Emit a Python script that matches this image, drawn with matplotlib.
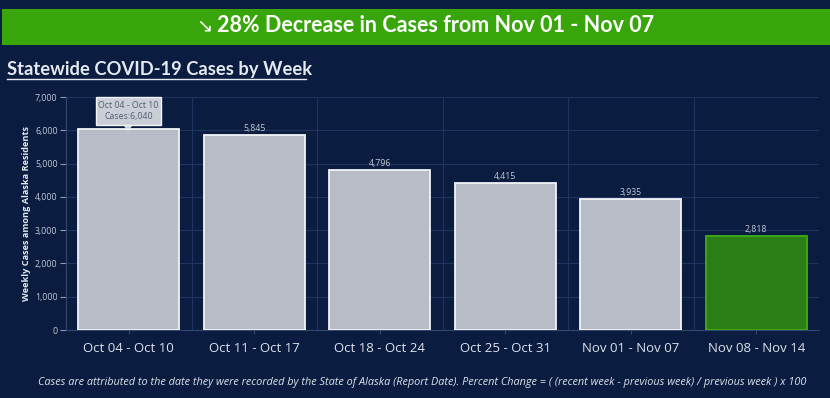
import matplotlib
matplotlib.use("Agg")
import matplotlib.pyplot as plt
from matplotlib.patches import Rectangle, Polygon
from matplotlib.ticker import FuncFormatter, MultipleLocator

weeks = ["Oct 04 - Oct 10", "Oct 11 - Oct 17", "Oct 18 - Oct 24",
         "Oct 25 - Oct 31", "Nov 01 - Nov 07", "Nov 08 - Nov 14"]
cases = [6040, 5845, 4796, 4415, 3935, 2818]
banner_text = "28% Decrease in Cases from Nov 01 - Nov 07"
title_text = "Statewide COVID-19 Cases by Week"
ylabel_text = "Weekly Cases among Alaska Residents"
footer_text = ("Cases are attributed to the date they were recorded by the State of Alaska (Report Date). "
               "Percent Change = ( (recent week - previous week) / previous week ) x 100")

BG = "#0a1c40"
W, H = 830, 398
fig = plt.figure(figsize=(W / 100, H / 100), dpi=100, facecolor=BG)

# banner
fig.patches.append(Rectangle((2 / W, 1 - 45 / H), 1 - 2 / W, 36 / H,
                             transform=fig.transFigure, facecolor="#38a60b",
                             edgecolor="none", zorder=0))
fig.text(204 / W, 1 - 26 / H, "\u2198", color="white", fontsize=14,
         ha="center", va="center", family=["DejaVu Sans"])
fig.text(436 / W, 1 - 26 / H, banner_text, color="white", fontsize=15.5,
         fontweight="bold", ha="center", va="center", family=["Lato", "DejaVu Sans"])

# title
fig.text(7 / W, 1 - 70 / H, title_text, color="#e6e9ef", fontsize=13.2,
         fontweight="bold", ha="left", va="center", family=["Lato", "DejaVu Sans"])
fig.lines.append(plt.Line2D([7 / W, 306 / W], [1 - 79 / H, 1 - 79 / H],
                            transform=fig.transFigure, color="#e6e9ef", lw=1))

# axes
ax = fig.add_axes([66 / W, 1 - 330 / H, (819 - 66) / W, (330 - 97) / H])
ax.set_facecolor(BG)
x = list(range(len(weeks)))
colors = ["#b7bcc7"] * (len(weeks) - 1) + ["#2b7e15"]
edges = ["#f2f4f7"] * (len(weeks) - 1) + ["#3fae12"]
ax.bar(x, cases, width=0.805, color=colors, edgecolor=edges, linewidth=1.3, zorder=3)
ax.set_xlim(-0.5, len(weeks) - 0.5)
ax.set_ylim(0, 7000)
ax.yaxis.set_major_locator(MultipleLocator(1000))
ax.yaxis.set_major_formatter(FuncFormatter(lambda v, p: f"{int(v):,}"))
ax.set_xticks(x)
ax.set_xticklabels(weeks)
ax.set_xticks([i + 0.5 for i in x[:-1]], minor=True)
ax.grid(axis="y", which="major", color="#1e3360", lw=0.8, zorder=0)
ax.grid(axis="x", which="minor", color="#1e3360", lw=0.8, zorder=0)
for s in ["top", "right"]:
    ax.spines[s].set_visible(False)
for s in ["left", "bottom"]:
    ax.spines[s].set_color("#33476e")
ax.tick_params(axis="y", colors="#8e9bb5", labelsize=6.3, length=4, pad=2, labelcolor="#c4cad6")
ax.tick_params(axis="x", colors="#33476e", labelsize=9.5, length=3, pad=6, labelcolor="#dde2ea")
ax.tick_params(which="minor", length=0)
for lab in ax.get_xticklabels():
    lab.set_family(["Open Sans", "DejaVu Sans"])
for lab in ax.get_yticklabels():
    lab.set_family(["Open Sans", "DejaVu Sans"])
ax.set_ylabel(ylabel_text, color="#e6e9ef", fontsize=6.6, fontweight="bold",
              family=["Open Sans", "DejaVu Sans"], labelpad=3)

for i, v in enumerate(cases):
    ax.text(i, v + 60, f"{v:,}", ha="center", va="bottom", fontsize=6.3,
            color="#c4cad6", family=["Open Sans", "DejaVu Sans"], zorder=4)

# tooltip on first bar
tx0, tx1 = 96 / W, 161 / W
ty0, ty1 = 1 - 125 / H, 1 - 97 / H
fig.patches.append(Rectangle((tx0, ty0), tx1 - tx0, ty1 - ty0, transform=fig.transFigure,
                             facecolor="#c9ced7", edgecolor="#f2f4f7", lw=1, zorder=10))
fig.patches.append(Polygon([[124 / W, ty0], [132 / W, ty0], [128 / W, 1 - 130 / H]],
                           closed=True, transform=fig.transFigure,
                           facecolor="#c9ced7", edgecolor="#f2f4f7", lw=0.8, zorder=9))
fig.text((tx0 + tx1) / 2, 1 - 105 / H, f"{weeks[0]}", ha="center", va="center",
         fontsize=6.3, color="#555e70", zorder=11, family=["Open Sans", "DejaVu Sans"])
fig.text((tx0 + tx1) / 2, 1 - 117 / H, f"Cases:{cases[0]:,}", ha="center", va="center",
         fontsize=6.3, color="#555e70", zorder=11, family=["Open Sans", "DejaVu Sans"])

# footer
fig.text(422 / W, 1 - 382 / H, footer_text, ha="center", va="center", fontsize=7.85,
         style="italic", color="#dde2ea", family=["Open Sans", "DejaVu Sans"])

fig.savefig("out.png", dpi=100, facecolor=BG)
